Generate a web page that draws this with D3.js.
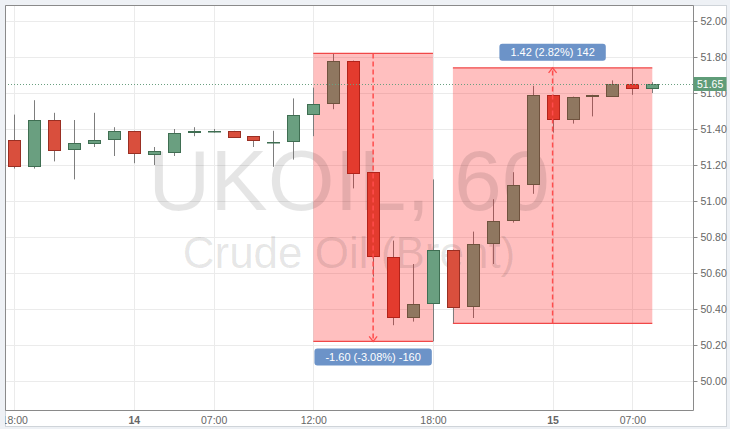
<!DOCTYPE html>
<html>
<head>
<meta charset="utf-8">
<script src="https://cdn.jsdelivr.net/npm/d3@7/dist/d3.min.js"></script>
<style>
  html, body { margin: 0; padding: 0; background: #eef1f5; }
  svg { display: block; }
  text { font-family: "Liberation Sans", Arial, sans-serif; }
</style>
</head>
<body>
<div id="chart"></div>
<script>
// hourly candles
const opens  = [51.34, 51.19, 51.45, 51.28, 51.32, 51.34, 51.39, 51.26, 51.27, 51.38, 51.39, 51.39, 51.36, 51.33, 51.33, 51.48, 51.54,
                51.78, 51.16, 50.69, 50.35, 50.43, 50.73, 50.41, 50.76, 50.89, 51.09, 51.59, 51.45, 51.58, 51.58, 51.65, 51.62];
const highs  = [51.48, 51.56, 51.49, 51.45, 51.49, 51.41, 51.39, 51.30, 51.40, 51.41, 51.40, 51.39, 51.36, 51.39, 51.57, 51.63, 51.82,
                51.78, 51.16, 50.78, 50.65, 51.12, 50.73, 50.83, 51.01, 51.16, 51.64, 51.59, 51.58, 51.59, 51.67, 51.74, 51.66];
const lows   = [51.18, 51.18, 51.22, 51.12, 51.30, 51.25, 51.21, 51.20, 51.25, 51.36, 51.38, 51.35, 51.30, 51.19, 51.23, 51.36, 51.51,
                51.07, 50.58, 50.31, 50.33, 50.22, 50.32, 50.35, 50.65, 50.88, 51.04, 51.38, 51.43, 51.47, 51.58, 51.59, 51.60];
const closes = [51.19, 51.45, 51.28, 51.32, 51.34, 51.39, 51.26, 51.28, 51.38, 51.39, 51.39, 51.35, 51.33, 51.33, 51.48, 51.54, 51.78,
                51.15, 50.69, 50.35, 50.43, 50.73, 50.41, 50.76, 50.89, 51.09, 51.59, 51.45, 51.58, 51.59, 51.65, 51.62, 51.65];

const timeTickBars   = [0, 6, 10, 15, 21, 27, 31];
const timeTickLabels = ["18:00", "14", "07:00", "12:00", "18:00", "15", "07:00"];
const dayLabels      = ["14", "15"];

const priceTicks = [50.00, 50.20, 50.40, 50.60, 50.80, 51.00, 51.20, 51.40, 51.60, 51.80, 52.00];
const lastPrice = 51.65;

// the two price-range measurements
const rangeFromBar = [15, 22];
const rangeToBar   = [21, 32];
const rangeStart   = [51.82, 50.32];
const rangeEnd     = [50.22, 51.74];
const rangeLabels  = ["-1.60 (-3.08%) -160", "1.42 (2.82%) 142"];

const W = 730, H = 429;
const plot = { left: 5, top: 5, right: 693, bottom: 410 };

const upColor = "#6a9f80", upStroke = "#3f6e52";
const downColor = "#d94f3d", downStroke = "#9a2f23";
const shade = "#ff0000";

const svg = d3.select("#chart").append("svg")
    .attr("width", W)
    .attr("height", H);

svg.append("defs").append("clipPath")
    .attr("id", "frame")
    .append("rect")
    .attr("x", 5).attr("y", 5)
    .attr("width", 722).attr("height", 422);

svg.append("rect")
    .attr("x", 5.5).attr("y", 5.5)
    .attr("width", 721).attr("height", 421)
    .attr("fill", "#fff")
    .attr("stroke", "#cfd4d9");

const x = d3.scaleLinear()
    .domain([0, 32])
    .range([14.2, 652.3]);

const y = d3.scaleLinear()
    .domain([50, 52])
    .range([381, 21]);

const px = v => Math.round(v) + 0.5;

// grid
const grid = svg.append("g").attr("class", "grid");

grid.selectAll(".hgrid")
    .data(priceTicks)
    .enter().append("line")
    .attr("x1", plot.left).attr("x2", plot.right)
    .attr("y1", d => px(y(d))).attr("y2", d => px(y(d)))
    .attr("stroke", "#ebebeb");

grid.selectAll(".vgrid")
    .data(timeTickBars)
    .enter().append("line")
    .attr("x1", d => px(x(d))).attr("x2", d => px(x(d)))
    .attr("y1", plot.top).attr("y2", plot.bottom)
    .attr("stroke", "#ebebeb");

// shaded ranges
const ranges = rangeLabels.map((label, i) => ({
    from: rangeFromBar[i],
    to: rangeToBar[i],
    start: rangeStart[i],
    end: rangeEnd[i],
    label: label
}));

svg.selectAll(".range-fill")
    .data(ranges)
    .enter().append("rect")
    .attr("x", d => x(d.from))
    .attr("y", d => y(Math.max(d.start, d.end)))
    .attr("width", d => x(d.to) - x(d.from))
    .attr("height", d => y(Math.min(d.start, d.end)) - y(Math.max(d.start, d.end)))
    .attr("fill", shade)
    .attr("fill-opacity", 0.25);

// watermark
const midX = (plot.left + plot.right) / 2;
svg.append("text")
    .attr("x", midX).attr("y", 210)
    .attr("text-anchor", "middle")
    .attr("font-size", 86)
    .attr("fill", "rgba(0,0,0,0.1)")
    .text("UKOIL, 60");

svg.append("text")
    .attr("x", midX).attr("y", 268)
    .attr("text-anchor", "middle")
    .attr("font-size", 44)
    .attr("fill", "rgba(0,0,0,0.1)")
    .text("Crude Oil (Brent)");

// candles
const candles = opens.map((o, i) => ({ i: i, o: o, h: highs[i], l: lows[i], c: closes[i] }));

// candles sitting inside a shaded range get tinted like the range
const inRange = i => ranges.some(r => i > r.from && i < r.to);
const tint = (col, i) => inRange(i) ? d3.interpolateRgb(col, shade)(0.25) : col;

const cg = svg.append("g").attr("class", "candles");

cg.selectAll(".wick")
    .data(candles)
    .enter().append("line")
    .attr("x1", d => px(x(d.i))).attr("x2", d => px(x(d.i)))
    .attr("y1", d => y(d.h)).attr("y2", d => y(d.l))
    .attr("stroke", d => tint("#7d7d7d", d.i));

cg.selectAll(".body")
    .data(candles)
    .enter().append("rect")
    .attr("x", d => Math.round(x(d.i)) - 5.5)
    .attr("y", d => Math.round(y(Math.max(d.o, d.c))) + 0.5)
    .attr("width", 12)
    .attr("height", d => Math.max(0.5, Math.round(Math.abs(y(d.o) - y(d.c))) - 1))
    .attr("fill", d => tint(d.c >= d.o ? upColor : downColor, d.i))
    .attr("stroke", d => tint(d.c >= d.o ? upStroke : downStroke, d.i));

// range lines, arrows and labels
ranges.forEach(r => {
    const xm = (x(r.from) + x(r.to)) / 2;
    const g = svg.append("g");

    [r.start, r.end].forEach(p => {
        g.append("line")
            .attr("x1", x(r.from)).attr("x2", x(r.to))
            .attr("y1", y(p)).attr("y2", y(p))
            .attr("stroke", "#f04848")
            .attr("stroke-width", 1.3);
    });

    g.append("line")
        .attr("x1", xm).attr("x2", xm)
        .attr("y1", y(r.start)).attr("y2", y(r.end))
        .attr("stroke", "#ff4d4d")
        .attr("stroke-width", 1.5)
        .attr("stroke-dasharray", "5,3");

    const dir = r.end < r.start ? 1 : -1;
    const ye = y(r.end);
    g.append("path")
        .attr("d", `M${xm - 4},${ye - 5 * dir} L${xm},${ye} L${xm + 4},${ye - 5 * dir}`)
        .attr("fill", "none")
        .attr("stroke", "#ff4d4d")
        .attr("stroke-width", 1.3);

    const txt = g.append("text")
        .attr("x", xm)
        .attr("text-anchor", "middle")
        .attr("font-size", 11)
        .attr("fill", "#fff")
        .text(r.label);
    const tw = txt.node().getComputedTextLength() + 22;
    const boxY = dir === 1 ? ye + 7 : ye - 7 - 17;
    txt.attr("y", boxY + 12.5);
    g.insert("rect", "text")
        .attr("x", xm - tw / 2)
        .attr("y", boxY)
        .attr("width", tw)
        .attr("height", 17)
        .attr("rx", 3)
        .attr("fill", "#6c93c8");
});

// last price line
svg.append("line")
    .attr("x1", plot.left).attr("x2", plot.right)
    .attr("y1", px(y(lastPrice))).attr("y2", px(y(lastPrice)))
    .attr("stroke", upColor)
    .attr("stroke-dasharray", "1,2");

// plot frame
svg.append("path")
    .attr("d", `M${plot.left + 0.5},${plot.bottom + 0.5} V${plot.top + 0.5} H${plot.right + 0.5} V${plot.bottom + 0.5} Z`)
    .attr("fill", "none")
    .attr("stroke", "#8a8a8a");

// right price axis
const yAxis = svg.append("g")
    .attr("transform", `translate(${plot.right + 0.5},0)`)
    .call(d3.axisRight(y).tickValues(priceTicks).tickSize(4).tickPadding(3).tickFormat(d3.format(".2f")));
yAxis.select(".domain").remove();
yAxis.selectAll(".tick line").attr("stroke", "#8a8a8a");
yAxis.selectAll(".tick text")
    .attr("font-family", "Liberation Sans, Arial, sans-serif")
    .attr("font-size", 10.5)
    .attr("fill", "#666");

// last price tag
const lp = svg.append("g");
lp.append("rect")
    .attr("x", plot.right + 0.5)
    .attr("y", y(lastPrice) - 7)
    .attr("width", 33)
    .attr("height", 14)
    .attr("fill", "#5f9c78");
lp.append("text")
    .attr("x", plot.right + 4)
    .attr("y", y(lastPrice) + 4)
    .attr("font-size", 10.5)
    .attr("fill", "#fff")
    .text(d3.format(".2f")(lastPrice));

// bottom time axis
const xAxis = svg.append("g")
    .attr("clip-path", "url(#frame)")
    .attr("transform", `translate(0,${plot.bottom + 0.5})`)
    .call(d3.axisBottom(x)
        .tickValues(timeTickBars)
        .tickSize(3)
        .tickPadding(3)
        .tickFormat((d, i) => timeTickLabels[i]));
xAxis.select(".domain").remove();
xAxis.selectAll(".tick line").attr("stroke", "#8a8a8a");
xAxis.selectAll(".tick text")
    .attr("font-family", "Liberation Sans, Arial, sans-serif")
    .attr("font-size", 10.5)
    .attr("fill", "#666")
    .attr("font-weight", (d, i) => dayLabels.includes(timeTickLabels[i]) ? "bold" : "normal");
</script>
</body>
</html>
